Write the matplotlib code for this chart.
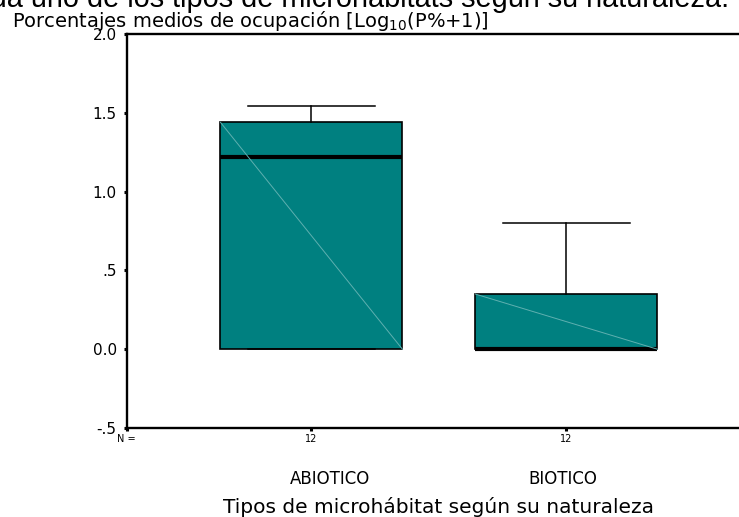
import matplotlib
matplotlib.use("Agg")
import matplotlib.pyplot as plt
from matplotlib.transforms import offset_copy

plt.rcParams['font.family'] = ['DejaVu Sans']

# Summary statistics per microhabitat type (log10(P%+1))
categories = ["ABIOTICO", "BIOTICO"]
n_obs = [12, 12]
lower_whisker = [0.0, 0.0]
q1 = [0.0, 0.0]
medians = [1.22, 0.0]
q3 = [1.44, 0.35]
upper_whisker = [1.545, 0.80]
ytick_values = [-0.5, 0.0, 0.5, 1.0, 1.5, 2.0]
ytick_labels = ["-.5", "0.0", ".5", "1.0", "1.5", "2.0"]

positions = [1, 2]
box_width = 0.714
teal = "#008080"

fig = plt.figure(figsize=(7.39, 5.17), dpi=100)
ax = fig.add_axes([0.1714, 0.1721, 0.845, 0.7621])

stats = []
for i, name in enumerate(categories):
    stats.append(dict(label=name, whislo=lower_whisker[i], q1=q1[i],
                      med=medians[i], q3=q3[i], whishi=upper_whisker[i],
                      fliers=[]))

ax.bxp(stats, positions=positions, widths=box_width, capwidths=0.5,
       patch_artist=True, showfliers=False, manage_ticks=False,
       boxprops=dict(facecolor=teal, edgecolor="black", linewidth=1.2),
       medianprops=dict(color="black", linewidth=3.0, solid_capstyle="butt"),
       whiskerprops=dict(color="black", linewidth=1.1),
       capprops=dict(color="black", linewidth=1.1))

# light diagonal across each box
for p, lo, hi in zip(positions, q1, q3):
    ax.plot([p - box_width / 2, p + box_width / 2], [hi, lo],
            color="#5fb0b0", linewidth=0.7, zorder=2.5)

xmin = 1 - 184.8 / 255
ax.set_xlim(xmin, 2 + 184.8 / 255)
ax.set_ylim(-0.5, 2.0)

ax.set_yticks(ytick_values)
ax.set_yticklabels(ytick_labels, fontsize=11)
ax.set_xticks([xmin] + positions)
ax.set_xticklabels(["N ="] + [str(n) for n in n_obs], fontsize=7)
ax.tick_params(axis="y", length=2.2, width=2.2, pad=5, direction="out")
ax.tick_params(axis="x", length=2.0, width=2.2, pad=2, direction="out")

for side in ("left", "top", "bottom", "right"):
    ax.spines[side].set_linewidth(1.7)

# category names below the counts (slight horizontal nudges, in pixels)
label_shift = [19, -4]
trans = ax.get_xaxis_transform()
for p, name, dx in zip(positions, categories, label_shift):
    t = offset_copy(trans, fig=fig, x=dx, y=0, units="dots")
    ax.text(p, -0.142, name, transform=t, ha="center", va="baseline",
            fontsize=12)

ax.text(0.5, -0.216, "Tipos de microhábitat según su naturaleza",
        transform=ax.transAxes, ha="center", va="baseline", fontsize=14.5)

fig.text(12 / 739, 1 - 27 / 517,
         r"Porcentajes medios de ocupación [Log$_{10}$(P%+1)]",
         ha="left", va="baseline", fontsize=14)

fig.text(729 / 739, 1 - 7 / 517,
         "para cada uno de los tipos de microhábitats según su naturaleza.",
         ha="right", va="baseline", fontsize=20.8,
         family="Liberation Sans")

fig.savefig("out.png", dpi=100)
